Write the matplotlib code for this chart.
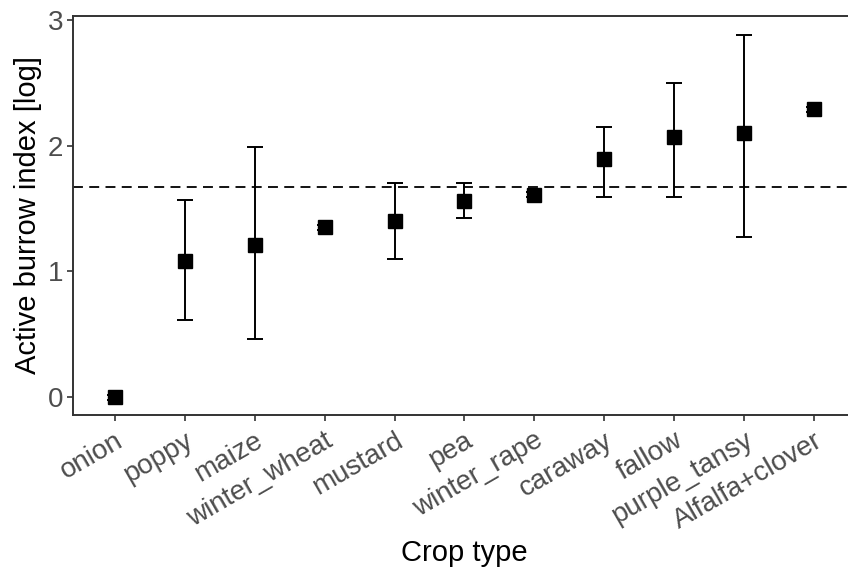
"""Active burrow index by crop type: mean with error bars and a dashed reference line."""

import matplotlib

matplotlib.use("Agg")
import matplotlib.pyplot as plt

# Data
crops = ["onion", "poppy", "maize", "winter_wheat", "mustard", "pea",
         "winter_rape", "caraway", "fallow", "purple_tansy", "Alfalfa+clover"]
means = [0.00, 1.08, 1.21, 1.35, 1.40, 1.56, 1.61, 1.89, 2.07, 2.10, 2.29]
upper = [0.02, 1.57, 1.99, 1.37, 1.70, 1.70, 1.63, 2.15, 2.50, 2.88, 2.31]
lower = [-0.02, 0.61, 0.46, 1.33, 1.10, 1.42, 1.59, 1.59, 1.59, 1.27, 2.27]
reference_level = 1.668
y_ticks = [0, 1, 2, 3]

# Style
INK = "black"
TICK_GREY = "#4D4D4D"
SPINE_GREY = "#333333"
plt.rcParams["font.family"] = ["Liberation Sans", "DejaVu Sans"]

fig = plt.figure(figsize=(8.48, 5.74), dpi=100)
ax = fig.add_axes([73 / 848, 159 / 574, (856 - 73) / 848, (415 - 16) / 574])

x = list(range(1, len(crops) + 1))
yerr = [[m - lo for m, lo in zip(means, lower)],
        [hi - m for m, hi in zip(means, upper)]]

ax.axhline(reference_level, color=INK, linewidth=1.3, dashes=(5.5, 3.5), zorder=1)
ax.errorbar(x, means, yerr=yerr, fmt="s", color=INK, markersize=9.5,
            ecolor=INK, elinewidth=1.4, capsize=6, capthick=1.4, zorder=3)

ax.set_xlim(0.4, 11.6)
ax.set_ylim(-0.143, 3.03)
ax.set_xticks(x)
ax.set_xticklabels(crops, rotation=30, ha="right", rotation_mode="anchor",
                   fontsize=20, color=TICK_GREY)
ax.set_yticks(y_ticks)
ax.set_yticklabels([str(t) for t in y_ticks], fontsize=20, color=TICK_GREY)
ax.tick_params(axis="both", length=4, width=1.2, color=SPINE_GREY)
ax.tick_params(axis="x", pad=5)
ax.tick_params(axis="y", pad=3)

for side in ["left", "bottom", "top", "right"]:
    ax.spines[side].set_color(SPINE_GREY)
    ax.spines[side].set_linewidth(1.4)

ax.set_xlabel("Crop type", fontsize=21, color=INK, labelpad=4)
ax.set_ylabel("Active burrow index [log]", fontsize=21, color=INK, labelpad=4)

fig.savefig("out.png", dpi=100, facecolor="white")
plt.close(fig)
